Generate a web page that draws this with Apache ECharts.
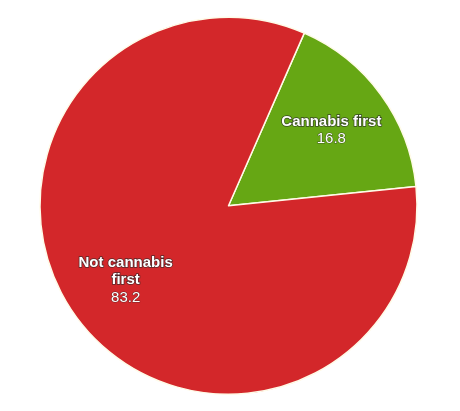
<!DOCTYPE html>
<html>
<head>
<meta charset="utf-8">
<script src="https://cdn.jsdelivr.net/npm/echarts@6/dist/echarts.min.js"></script>
<style>html,body{margin:0;padding:0;background:#fff;}#main{width:460px;height:411px;}</style>
</head>
<body>
<div id="main"></div>
<script>
var categories = ['Cannabis first', 'Not cannabis first'];
var values = [16.8, 83.2];
var colors = ['#66a714', '#d3272a'];

var FONT = 'Liberation Sans, Arial, sans-serif';
var FS = 15;
var ctx = document.createElement('canvas').getContext('2d');
ctx.font = 'bold ' + FS + 'px ' + FONT;
function wrap(text, maxW) {
  var words = text.split(' '), lines = [], cur = '';
  words.forEach(function (w) {
    var t = cur ? cur + ' ' + w : w;
    if (cur && ctx.measureText(t).width > maxW) { lines.push(cur); cur = w; }
    else { cur = t; }
  });
  if (cur) lines.push(cur);
  return lines;
}

var data = categories.map(function (c, i) {
  return { name: c, value: values[i], itemStyle: { color: colors[i] } };
});

var chart = echarts.init(document.getElementById('main'));
var labelStyle = {
  show: true,
  position: 'inside',
  formatter: function (p) {
    return wrap(p.name, 106).map(function (l) { return '{n|' + l + '}'; }).join('\n') + '\n{v|' + p.value + '}';
  },
  color: '#fff',
  rich: {
    n: { fontFamily: FONT, fontSize: FS, fontWeight: 'bold', color: '#fff', lineHeight: 17, align: 'center', textBorderColor: 'rgba(40,40,40,0.75)', textBorderWidth: 1.5 },
    v: { fontFamily: FONT, fontSize: FS, fontWeight: 'normal', color: '#fff', lineHeight: 18, align: 'center', textBorderColor: 'rgba(40,40,40,0.6)', textBorderWidth: 1 }
  }
};
chart.setOption({
  backgroundColor: '#fff',
  animation: false,
  series: [{
    type: 'pie',
    center: [228.5, 205.7],
    radius: [0, 188.5],
    startAngle: 66.3,
    clockwise: true,
    label: { show: false },
    labelLine: { show: false },
    itemStyle: { borderColor: '#fffbe8', borderWidth: 1.5 },
    emphasis: { disabled: true },
    data: data
  }, {
    type: 'pie',
    center: [228.5, 205.7],
    radius: [60, 188.5],
    startAngle: 66.3,
    clockwise: true,
    silent: true,
    itemStyle: { color: 'transparent', borderWidth: 0 },
    label: labelStyle,
    labelLine: { show: false },
    emphasis: { disabled: true },
    data: categories.map(function (c, i) { return { name: c, value: values[i], itemStyle: { color: 'transparent' } }; })
  }]
});
</script>
</body>
</html>
